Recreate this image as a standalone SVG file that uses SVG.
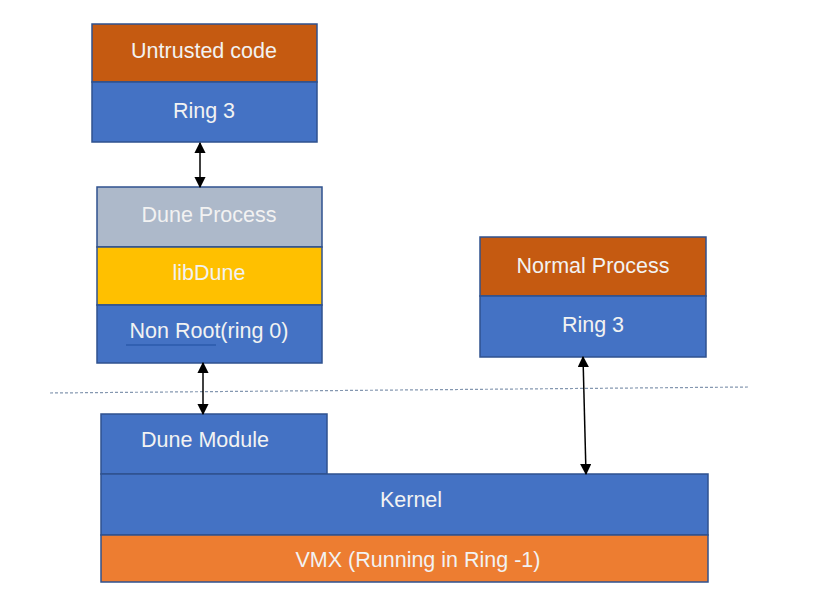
<svg xmlns="http://www.w3.org/2000/svg" width="835" height="606" viewBox="0 0 835 606">
<defs>
<style>
.t{font-family:"Liberation Sans","Open Sans",sans-serif;font-size:21.5px;fill:#F2F2F2;text-anchor:middle}
.b{stroke:#2F528F;stroke-width:1.5}
.blue{fill:#4472C4}
.brown{fill:#C55A11}
.gray{fill:#ADB9CA}
.yellow{fill:#FFC000}
.orange{fill:#ED7D31}
.c{stroke:#000;stroke-width:1.5;fill:none;marker-start:url(#a);marker-end:url(#a)}
</style>
<marker id="a" viewBox="0 0 10 10" refX="9" refY="5" markerWidth="7.5" markerHeight="7.5" orient="auto-start-reverse">
<path d="M0,0 L10,5 L0,10 z" fill="#000"/>
</marker>
</defs>
<rect width="835" height="606" fill="#fff"/>
<g id="untrusted">
<rect class="b brown" x="92" y="24" width="225" height="58"/>
<rect class="b blue" x="92" y="82" width="225" height="60"/>
<text class="t" x="204" y="58">Untrusted code</text>
<text class="t" x="204" y="118">Ring 3</text>
</g>
<g id="dune-process">
<rect class="b gray" x="97" y="187" width="225" height="60"/>
<rect class="b yellow" x="97" y="247" width="225" height="58"/>
<rect class="b blue" x="97" y="305" width="225" height="58"/>
<text class="t" x="209" y="222">Dune Process</text>
<text class="t" x="209" y="280">libDune</text>
<text class="t" x="209" y="338">Non Root(ring 0)</text>
<line x1="126" y1="345" x2="216" y2="345" stroke="#1F4E9F" stroke-width="1"/>
</g>
<g id="normal-process">
<rect class="b brown" x="480" y="237" width="226" height="59"/>
<rect class="b blue" x="480" y="296" width="226" height="61"/>
<text class="t" x="593" y="273">Normal Process</text>
<text class="t" x="593" y="332">Ring 3</text>
</g>
<g id="kernel-stack">
<rect class="b blue" x="101" y="414" width="226" height="60"/>
<rect class="b blue" x="101" y="474" width="607" height="61"/>
<rect class="b orange" x="101" y="535" width="607" height="47"/>
<text class="t" x="205" y="447">Dune Module</text>
<text class="t" x="411" y="507">Kernel</text>
<text class="t" x="418" y="567">VMX (Running in Ring -1)</text>
</g>
<g id="connectors">
<line x1="50" y1="393" x2="750" y2="387" stroke="#8497B0" stroke-width="1.2" stroke-dasharray="3,2"/>
<line class="c" x1="200" y1="143" x2="200" y2="187"/>
<line class="c" x1="203" y1="363" x2="203" y2="414"/>
<line class="c" x1="583" y1="357" x2="586" y2="474"/>
</g>
</svg>
